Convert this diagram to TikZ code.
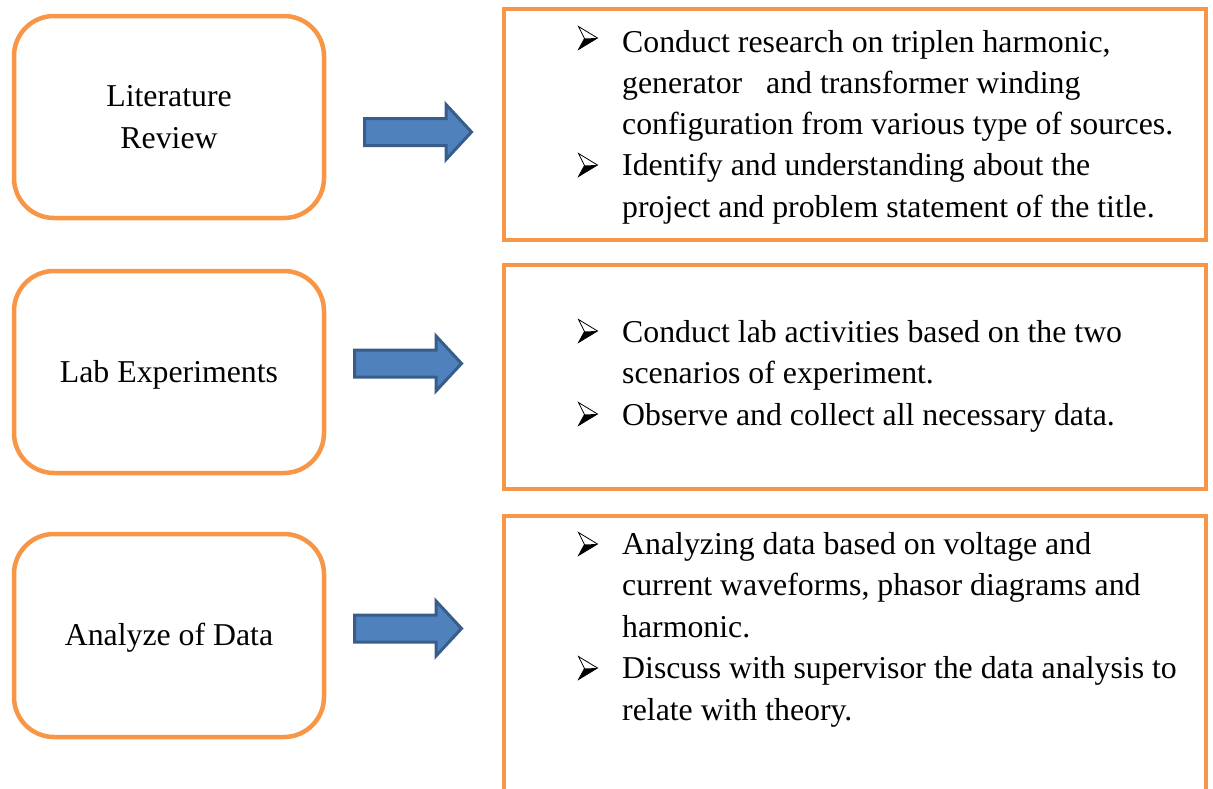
\documentclass[tikz,border=0pt]{standalone}
\usepackage{fontspec}
\setmainfont{Liberation Serif}
\definecolor{boxorange}{HTML}{F79646}
\definecolor{arrowfill}{HTML}{4F81BD}
\definecolor{arrowline}{HTML}{385D8A}
\tikzset{
  leftbox/.style={draw=boxorange, line width=4.5pt, rounded corners=40pt, fill=white},
  rightbox/.style={draw=boxorange, line width=4.5pt, fill=white},
  txt/.style={font=\fontsize{31.8}{41.5}\selectfont, inner sep=0pt, anchor=base west},
  ctxt/.style={font=\fontsize{31.8}{41.5}\selectfont, inner sep=0pt, anchor=base},
  flowarrow/.pic={
    \draw[draw=arrowline, fill=arrowfill, line width=3pt, line join=miter]
      (0,-13.5) -- (81.5,-13.5) -- (81.5,-27.5) -- (107,0) -- (81.5,27.5)
      -- (81.5,13.5) -- (0,13.5) -- cycle;
  },
  bulletarrow/.pic={
    \fill[black] (6,0.5) -- (19,0) -- (0,11.5) -- cycle;
    \draw[black, line width=0.8pt, line join=miter] (0,-11.5) -- (19,0) -- (0,11.5) -- (6,0.5) -- cycle;
  }
}
\begin{document}
\begin{tikzpicture}[x=1pt,y=-1pt]
\useasboundingbox (0,0) rectangle (1213,788);
% left boxes
\draw[leftbox] (14,16) rectangle (324,218) node[midway] (L1) {};
\draw[leftbox] (14,271) rectangle (324,473) node[midway] (L2) {};
\draw[leftbox] (14,534) rectangle (324,737) node[midway] (L3) {};
% right boxes
\draw[rightbox] (504,9) rectangle (1206,240) node[midway] (R1) {};
\draw[rightbox] (504,265) rectangle (1206,489) node[midway] (R2) {};
\draw[rightbox] (504,516) rectangle (1206,800) node[midway] (R3) {};
% arrows
\pic (A1) at (364.5,132) {flowarrow};
\pic (A2) at (354.5,363.5) {flowarrow};
\pic (A3) at (354.5,628.5) {flowarrow};
% left text
\node[ctxt] (l1a) at (169,106) {Literature};
\node[ctxt] (l1b) at (169,148) {Review};
\node[ctxt] (l2) at (169,382) {Lab Experiments};
\node[ctxt] (l3) at (169,645) {Analyze of Data};
% box 1 text
\pic (b11) at (578.5,38) {bulletarrow};
\node[txt] (t11) at (622,52) {Conduct research on triplen harmonic,};
\node[txt] (t12) at (622,93) {generator \ \ and transformer winding};
\node[txt] (t13) at (622,134) {configuration from various type of sources.};
\pic (b12) at (578.5,165) {bulletarrow};
\node[txt] (t14) at (622,175.5) {Identify and understanding about the};
\node[txt] (t15) at (622,217) {project and problem statement of the title.};
% box 2 text
\pic (b21) at (578.5,331) {bulletarrow};
\node[txt] (t21) at (622,342) {Conduct lab activities based on the two};
\node[txt] (t22) at (622,383.5) {scenarios of experiment.};
\pic (b22) at (578.5,414) {bulletarrow};
\node[txt] (t23) at (622,425) {Observe and collect all necessary data.};
% box 3 text
\pic (b31) at (578.5,544) {bulletarrow};
\node[txt] (t31) at (622,554) {Analyzing data based on voltage and};
\node[txt] (t32) at (622,595.5) {current waveforms, phasor diagrams and};
\node[txt] (t33) at (622,637) {harmonic.};
\pic (b32) at (578.5,668) {bulletarrow};
\node[txt] (t34) at (622,678.5) {Discuss with supervisor the data analysis to};
\node[txt] (t35) at (622,720) {relate with theory.};
\end{tikzpicture}
\end{document}
